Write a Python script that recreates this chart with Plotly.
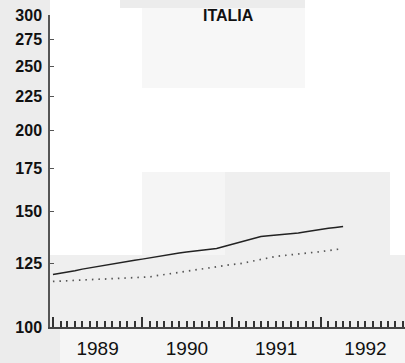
import plotly.graph_objects as go
import pandas as pd

months = pd.date_range("1989-01-01", periods=40, freq="MS")
serie_a = [120.3, 120.8, 121.3, 121.9, 122.6, 123.2, 123.8, 124.4, 125.0, 125.5,
           126.0, 126.5, 127.0, 127.6, 128.2, 128.8, 129.4, 129.8, 130.2, 130.6,
           131.0, 131.2, 131.8, 132.8, 133.8, 134.8, 135.6, 136.8, 137.5, 137.9,
           138.2, 138.5, 138.8, 139.2, 139.8, 140.5, 141.0, 141.6, 142.0, 142.5]
serie_b = [117.4, 117.6, 117.8, 118.0, 118.1, 118.2, 118.3, 118.4, 118.5, 118.7,
           118.9, 119.0, 119.1, 119.3, 119.8, 120.3, 120.8, 121.3, 121.7, 122.1,
           122.6, 123.0, 123.5, 124.0, 124.6, 124.9, 125.5, 126.3, 127.0, 127.6,
           128.2, 128.6, 128.9, 129.2, 129.5, 129.9, 130.4, 130.9, 131.4, 131.8]
month_ticks = [d.strftime("%Y-%m-%d") for d in pd.date_range("1989-01-01", "1992-12-01", freq="MS")]
y_ticks = [100, 125, 150, 175, 200, 225, 250, 275, 300]
title = "ITALIA"

W, H = 405, 363
L, R, T, B = 50, 0, 15, 36
pw, ph = W - L - R, H - T - B
X_RANGE = ["1988-12-20", "1992-12-10"]

def px(x):
    return (x - L) / pw

def py(y):
    return 1 - (y - T) / ph

FONT = "Liberation Sans Narrow, Liberation Sans, Arial"

fig = go.Figure()
fig.add_trace(go.Scatter(x=months, y=serie_a, mode="lines", xaxis="x",
                         line=dict(color="#222222", width=1.5), showlegend=False))
fig.add_trace(go.Scatter(x=months, y=serie_b, mode="lines", xaxis="x2",
                         line=dict(color="#555555", width=1.7, dash="1.5px,5px"),
                         showlegend=False))

# background patches (scan artefacts)
rects = [
    (0, 0, 50, 363, "#ececec"),
    (120, 0, 305, 8, "#ececec"),
    (142, 8, 305, 88, "#f7f7f7"),
    (142, 172, 225, 255, "#f5f5f5"),
    (225, 172, 390, 255, "#efefef"),
    (50, 255, 405, 327, "#efefef"),
    (0, 327, 60, 363, "#ececec"),
    (60, 327, 405, 363, "#f5f5f5"),
]
shapes = []
for x0, y0, x1, y1, c in rects:
    shapes.append(dict(type="rect", xref="paper", yref="paper", layer="below",
                       x0=px(x0), x1=px(x1), y0=py(y1), y1=py(y0),
                       fillcolor=c, line=dict(width=0)))

fig.update_layout(
    width=W, height=H,
    margin=dict(l=L, r=R, t=T, b=B, autoexpand=False),
    paper_bgcolor="white", plot_bgcolor="rgba(0,0,0,0)",
    shapes=shapes,
    font=dict(family=FONT, color="#111111"),
    annotations=[dict(text="<b>" + title + "</b>", xref="paper", yref="paper",
                      x=px(228), y=py(5), showarrow=False,
                      font=dict(size=16, family=FONT, color="#111111"))],
    xaxis=dict(
        type="date", range=X_RANGE,
        dtick="M12", tick0="1989-01-01", ticklabelmode="period",
        tickformat="%Y", ticks="inside", ticklen=10, tickcolor="#333", tickwidth=1.5,
        tickfont=dict(size=19, family=FONT, color="#111"),
        ticklabelstandoff=3,
        showline=True, linecolor="#444", linewidth=1.5,
        showgrid=False, zeroline=False, automargin=False,
    ),
    xaxis2=dict(
        type="date", range=X_RANGE, overlaying="x", side="bottom", anchor="y",
        tickmode="array", tickvals=month_ticks, showticklabels=False,
        ticks="inside", ticklen=6, tickcolor="#333", tickwidth=1.5,
        showline=False, showgrid=False, zeroline=False, automargin=False,
    ),
    yaxis=dict(
        type="log", range=[2, 2.4771],
        tickvals=y_ticks, ticktext=[str(v) for v in y_ticks],
        ticks="inside", ticklen=4, tickcolor="#555",
        tickfont=dict(size=16, family=FONT, color="#111", weight="bold"),
        ticklabelstandoff=3,
        showline=True, linecolor="#555", linewidth=1.5,
        showgrid=False, zeroline=False, automargin=False,
    ),
)

fig.write_html("out.html", config={"displayModeBar": False},
               post_script="document.body.style.margin='0';document.body.style.overflow='hidden';")
